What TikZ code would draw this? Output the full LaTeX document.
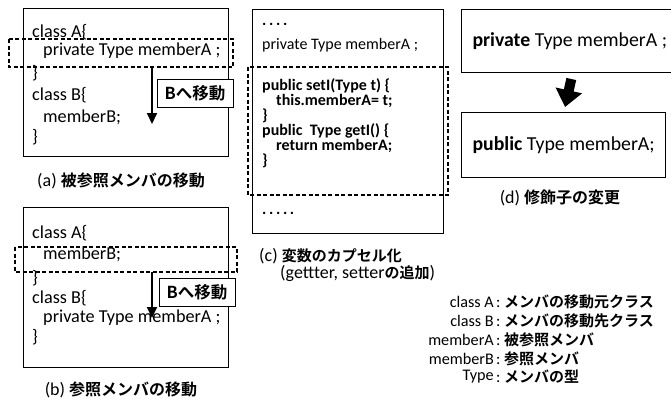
\documentclass[tikz,border=0pt]{standalone}
\usepackage{fontspec}
\setmainfont{Carlito}
\newfontfamily\jp{Noto Sans CJK JP}[BoldFont={Noto Sans CJK JP Bold}]
\newcommand{\ja}[2][16]{{\jp\bfseries\fontsize{#1}{#1}\selectfont #2}}
\usetikzlibrary{arrows.meta,positioning}

\begin{document}
\begin{tikzpicture}[x=1pt,y=-1pt,text=black,
	every node/.style={inner sep=0pt},
	box/.style={draw,line width=1pt},
	dbox/.style={draw,line width=1.4pt,dash pattern=on 4pt off 2.5pt},
	code/.style={anchor=west,font=\fontsize{18.2}{20}\selectfont},
	smallcode/.style={anchor=west,font=\fontsize{16}{18}\selectfont},
	movelabel/.style={draw,line width=1pt,fill=white,minimum width=76pt,minimum height=28pt},
	move/.style={line width=2pt,-{Triangle[width=10pt,length=11pt]}},
	caption/.style={font=\fontsize{18}{20}\selectfont},
	legend/.style={font=\fontsize{16.2}{19}\selectfont}]
	\useasboundingbox (0,0) rectangle (671,399);

	% (a) moving the referenced member
	\draw[box] (23,8) rectangle (228,156);
	\node[code] (a1) at (32,32) {class A\{};
	\node[code] (a2) at (43,51) {private Type memberA ;};
	\node[code] (a3) at (32,73) {\}};
	\node[code] (a4) at (32,95) {class B\{};
	\node[code] (a5) at (43,117) {memberB;};
	\node[code] (a6) at (32,137) {\}};
	\draw[dbox] (9,39) rectangle (233,67);
	\coordinate (mvAs) at (152,67);
	\coordinate (mvAe) at (152,124);
	\draw[move] (mvAs) -- (mvAe);
	\node[movelabel] (lblA) at (195,93) {\ja[16.5]{Bへ移動}};
	\node[caption] (capA) at (121,181) {(a) \ja{被参照メンバの移動}};

	% (b) moving the referencing member
	\draw[box] (23,207) rectangle (228,367);
	\node[code] (b1) at (32,233) {class A\{};
	\node[code] (b2) at (43,254) {memberB;};
	\node[code] (b3) at (32,278) {\}};
	\node[code] (b4) at (32,298) {class B\{};
	\node[code] (b5) at (43,318) {private Type memberA ;};
	\node[code] (b6) at (32,337) {\}};
	\draw[dbox] (15,247) rectangle (237,272);
	\coordinate (mvBs) at (152,272);
	\coordinate (mvBe) at (152,318);
	\draw[move] (mvBs) -- (mvBe);
	\node[movelabel] (lblB) at (197,292) {\ja[16.5]{Bへ移動}};
	\node[caption] (capB) at (121,390) {(b) \ja{参照メンバの移動}};

	% (c) encapsulating the field
	\draw[box] (252,9) rectangle (443,233);
	\node[smallcode] (c1) at (262,24) {{\bfseries .\,.\,.\,.}};
	\node[smallcode] (c2) at (262,45) {private Type memberA ;};
	\node[smallcode] (c3) at (262,86) {\bfseries public setI(Type t) \{};
	\node[smallcode] (c4) at (276,101) {\bfseries this.memberA= t;};
	\node[smallcode] (c5) at (262,116) {\bfseries \}};
	\node[smallcode] (c6) at (262,131) {\bfseries public~ Type getI() \{};
	\node[smallcode] (c7) at (276,146) {\bfseries return memberA;};
	\node[smallcode] (c8) at (262,161) {\bfseries \}};
	\node[smallcode] (c9) at (262,213) {{\bfseries .\,.\,.\,.\,.}};
	\draw[dbox] (248,67) rectangle (448,195);
	\node[caption,anchor=west] (capC1) at (259,256) {(c) \ja[15]{変数のカプセル化}};
	\node[caption,anchor=west] (capC2) at (280,273) {(gettter, setter\ja[15]{の追加})};

	% (d) changing the modifier
	\node[box,anchor=north west,minimum height=63pt,inner xsep=11pt,font=\fontsize{19.8}{21}\selectfont] (dtop) at (461,9) {\textbf{private} Type memberA ;};
	\node[box,anchor=north west,minimum height=65pt,inner xsep=11pt,font=\fontsize{19.8}{21}\selectfont] (dbot) at (461,112) {\textbf{public} Type memberA;};
	\draw[line width=10pt,-{Triangle[width=26pt,length=17pt]}] ([xshift=1.5pt,yshift=-6pt]dtop.south) -- ([xshift=1.5pt,yshift=5pt]dbot.north);
	\node[caption] (capD) at (560,198) {(d) \ja{修飾子の変更}};

	% legend
	\node[legend,anchor=east] (k1) at (494,302) {class A};
	\node[legend,anchor=west] (v1) at (496,302) {:~\ja[15]{メンバの移動元クラス}};
	\node[legend,anchor=east] (k2) at (494,321) {class B};
	\node[legend,anchor=west] (v2) at (496,321) {:~\ja[15]{メンバの移動先クラス}};
	\node[legend,anchor=east] (k3) at (494,340) {memberA};
	\node[legend,anchor=west] (v3) at (496,340) {:~\ja[15]{被参照メンバ}};
	\node[legend,anchor=east] (k4) at (494,359) {memberB};
	\node[legend,anchor=west] (v4) at (496,359) {:~\ja[15]{参照メンバ}};
	\node[legend,anchor=east] (k5) at (494,377) {Type};
	\node[legend,anchor=west] (v5) at (496,377) {:~\ja[15]{メンバの型}};
\end{tikzpicture}
\end{document}
